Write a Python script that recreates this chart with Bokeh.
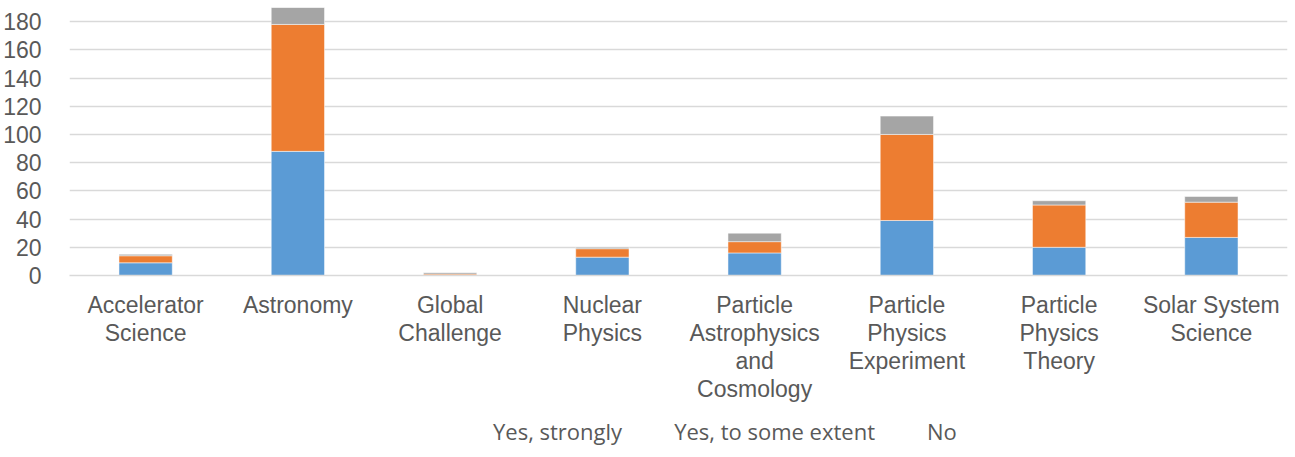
from bokeh.plotting import figure
from bokeh.layouts import column
from bokeh.models import FactorRange, Range1d, Legend, LegendItem, FixedTicker
from bokeh.embed import file_html
from bokeh.resources import INLINE

categories = ["Accelerator\nScience", "Astronomy", "Global\nChallenge", "Nuclear\nPhysics",
              "Particle\nAstrophysics\nand\nCosmology", "Particle\nPhysics\nExperiment",
              "Particle\nPhysics\nTheory", "Solar System\nScience"]
series = ["Yes, strongly", "Yes, to some extent", "No"]
yes_strongly = [9, 88, 0, 13, 16, 39, 20, 27]
yes_some_extent = [5, 90, 1, 6, 8, 61, 30, 25]
no = [1, 12, 1, 1, 6, 13, 3, 4]
colors = ["#5B9BD5", "#ED7D31", "#A5A5A5"]
y_ticks = [0, 20, 40, 60, 80, 100, 120, 140, 160, 180]

data = {"cat": categories, series[0]: yes_strongly, series[1]: yes_some_extent, series[2]: no}

p = figure(x_range=FactorRange(*categories), y_range=Range1d(0, 190),
           frame_width=1218, frame_height=268,
           output_backend="svg", toolbar_location=None,
           min_border_left=67, min_border_right=2, min_border_top=7, min_border_bottom=0)
p.outline_line_color = None

p.vbar_stack(series, x="cat", width=0.35, color=colors, source=data,
             line_color="white", line_width=0.5)

p.xgrid.grid_line_color = None
p.ygrid.grid_line_color = "#D9D9D9"
p.ygrid.grid_line_width = 1.5
p.yaxis.ticker = FixedTicker(ticks=y_ticks)
p.yaxis.axis_line_color = None
p.yaxis.major_tick_line_color = None
p.yaxis.minor_tick_line_color = None
p.yaxis.major_label_standoff = 22
p.yaxis.major_label_text_font = "Liberation Sans"
p.yaxis.major_label_text_font_size = "23px"
p.yaxis.major_label_text_color = "#595959"

p.xaxis.axis_line_color = "#D9D9D9"
p.xaxis.axis_line_width = 1.5
p.xaxis.major_tick_line_color = None
p.xaxis.minor_tick_line_color = None
p.xaxis.major_label_standoff = 10
p.xaxis.major_label_text_font = "Liberation Sans"
p.xaxis.major_label_text_font_size = "23px"
p.xaxis.major_label_text_color = "#595959"
p.xaxis.major_label_text_line_height = 1.08

# legend in its own small figure below the chart
lg = figure(width=1287, height=48, x_range=Range1d(0, 1), y_range=Range1d(0, 1),
            x_axis_type=None, y_axis_type=None, output_backend="svg",
            toolbar_location=None, min_border=0)
lg.outline_line_color = None
lg.grid.visible = False
legend_renderers = [lg.vbar(x=[], top=[], width=0.5, color=c) for c in colors]

legend = Legend(items=[LegendItem(label=s, renderers=[r]) for s, r in zip(series, legend_renderers)],
                orientation="horizontal", location=(403, 6),
                glyph_width=13, glyph_height=13, label_standoff=8, spacing=31,
                label_text_font="Open Sans", label_text_font_size="22px",
                label_text_color="#595959", border_line_color=None,
                background_fill_alpha=0, margin=0, padding=0)
lg.add_layout(legend, "center")

layout = column(p, lg, spacing=0)
open("out.html", "w").write(file_html(layout, INLINE))
